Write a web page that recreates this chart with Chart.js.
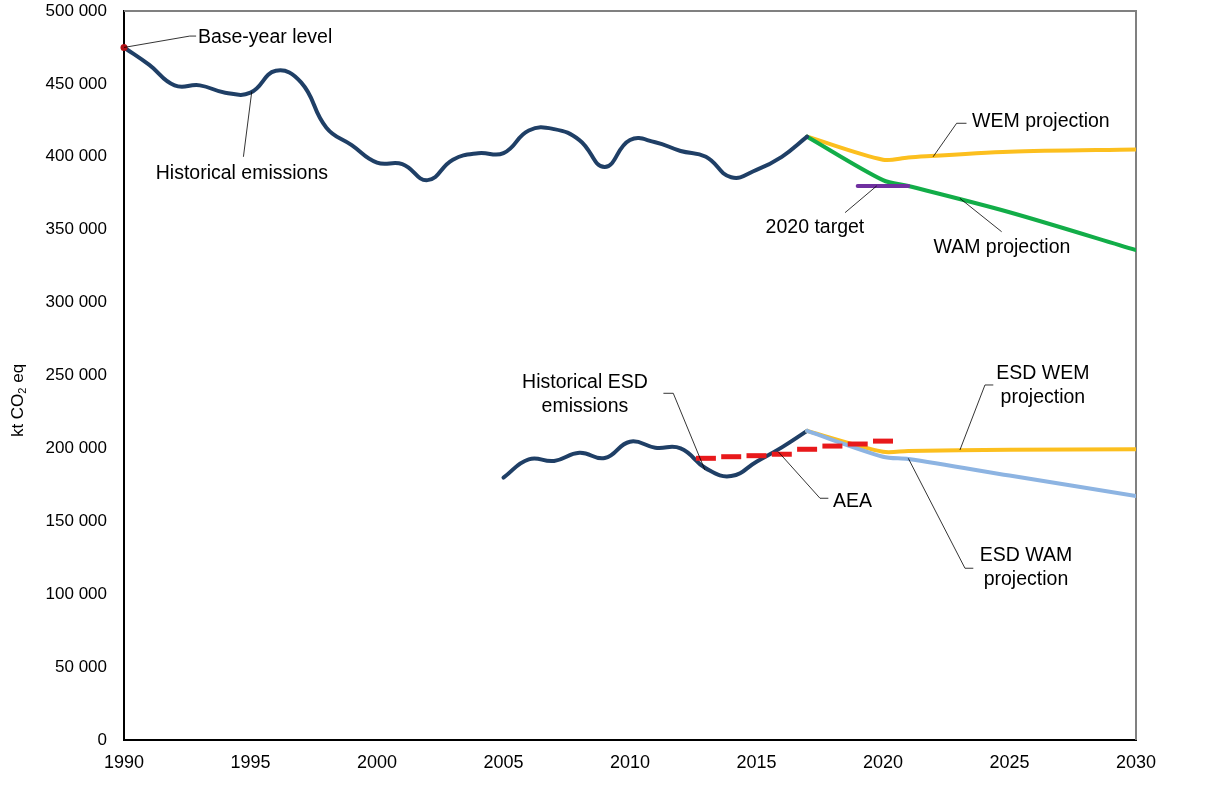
<!DOCTYPE html>
<html>
<head>
<meta charset="utf-8">
<script src="https://cdn.jsdelivr.net/npm/chart.js@4.4.1/dist/chart.umd.min.js"></script>
<style>
  html, body { margin: 0; padding: 0; background: #fff; overflow: hidden; }
  #wrap { width: 1219px; height: 797px; overflow: hidden; }
  #chart { display: block; margin-top: -4px; }
</style>
</head>
<body>
<div id="wrap"><canvas id="chart" width="1219" height="801"></canvas></div>
<script>
// kt CO2 eq values
const histYears = [1990,1991,1992,1993,1994,1995,1996,1997,1998,1999,2000,2001,2002,2003,2004,2005,2006,2007,2008,2009,2010,2011,2012,2013,2014,2015,2016,2017];
const histValues = [475000,463000,449000,449000,444000,444000,459000,451000,420000,408000,396000,395000,384000,398000,402500,402500,418000,419000,411500,393000,411500,410000,404000,400000,386000,391000,400000,413800];

const projYears = [2017, 2020, 2021, 2025, 2030];
const wemValues = [413800, 398000, 399500, 403500, 405000];
const wamValues = [413800, 384000, 380000, 362000, 336000];

const targetYears = [2019, 2021];
const targetValues = [380000, 380000];

const baseYear = [1990];
const baseValue = [475000];

const esdYears = [2005,2006,2007,2008,2009,2010,2011,2012,2013,2014,2015,2016,2017];
const esdValues = [180000,192500,191400,197000,193400,204600,200500,200000,186300,181000,190900,200700,212000];

const esdProjYears = [2017, 2020, 2021, 2025, 2030];
const esdWemValues = [212000, 197700, 198300, 199000, 199400];
const esdWamValues = [212000, 194300, 192700, 181400, 167300];

const aeaYears = [2013,2014,2015,2016,2017,2018,2019,2020];
const aeaValues = [193200,194300,195000,196000,199400,201600,203000,205000];

const xTicks = [1990,1995,2000,2005,2010,2015,2020,2025,2030];

// callout labels: text lines, text anchor (year, value), leader path (year, value)
const callouts = [
  { text: ['Base-year level'], align: 'left', at: [1992.92, 481500], path: [[1990, 475000], [1992.6, 482800], [1992.85, 482800]] },
  { text: ['Historical emissions'], align: 'center', at: [1994.66, 388200], path: [[1995.05, 444700], [1994.72, 400000]] },
  { text: ['2020 target'], align: 'center', at: [2017.31, 351200], path: [[2019.75, 380000], [2018.5, 361700]] },
  { text: ['WEM projection'], align: 'left', at: [2023.52, 423900], path: [[2021.98, 400000], [2022.91, 423000], [2023.3, 423000]] },
  { text: ['WAM projection'], align: 'center', at: [2024.7, 338000], path: [[2023.04, 371500], [2024.69, 348600]] },
  { text: ['Historical ESD', 'emissions'], align: 'center', at: [2008.22, 244900], path: [[2011.32, 237800], [2011.71, 237800], [2012.96, 185200]] },
  { text: ['AEA'], align: 'left', at: [2018.02, 163200], path: [[2015.86, 197700], [2017.51, 165800], [2017.84, 165800]] },
  { text: ['ESD WEM', 'projection'], align: 'center', at: [2026.32, 251000], path: [[2023.04, 198900], [2024.03, 243500], [2024.36, 243500]] },
  { text: ['ESD WAM', 'projection'], align: 'center', at: [2025.65, 126200], path: [[2021.0, 193200], [2023.24, 117800], [2023.57, 117800]] }
];

function pts(xs, ys) { return xs.map((x, i) => ({ x: x, y: ys[i] })); }

function fmt(v) { return v.toString().replace(/\B(?=(\d{3})+(?!\d))/g, ' '); }

const FONT = '"Liberation Sans", Arial, sans-serif';

const frameAndLabels = {
  id: 'frameAndLabels',
  beforeDatasetsDraw(chart) {
    const { ctx, chartArea: a } = chart;
    ctx.save();
    ctx.strokeStyle = '#808080';
    ctx.lineWidth = 2;
    ctx.beginPath();
    ctx.moveTo(a.left, a.top);
    ctx.lineTo(a.right, a.top);
    ctx.lineTo(a.right, a.bottom);
    ctx.stroke();
    ctx.restore();
  },
  afterDatasetsDraw(chart) {
    const { ctx, scales } = chart;
    const sx = scales.x, sy = scales.y;
    ctx.save();
    // leader lines
    ctx.strokeStyle = '#000';
    ctx.lineWidth = 0.8;
    callouts.forEach(c => {
      ctx.beginPath();
      c.path.forEach((p, i) => {
        const px = sx.getPixelForValue(p[0]), py = sy.getPixelForValue(p[1]);
        if (i === 0) ctx.moveTo(px, py); else ctx.lineTo(px, py);
      });
      ctx.stroke();
    });
    // text
    ctx.fillStyle = '#000';
    ctx.font = '19.5px ' + FONT;
    ctx.textBaseline = 'middle';
    callouts.forEach(c => {
      ctx.textAlign = c.align;
      const px = sx.getPixelForValue(c.at[0]);
      const py = sy.getPixelForValue(c.at[1]);
      c.text.forEach((t, i) => ctx.fillText(t, px, py + i * 24));
    });
    // y axis title with subscript
    const cy = (chart.chartArea.top + chart.chartArea.bottom) / 2 + 25;
    ctx.translate(18, cy);
    ctx.rotate(-Math.PI / 2);
    ctx.textAlign = 'left';
    ctx.textBaseline = 'middle';
    const p1 = 'kt CO', p3 = ' eq';
    ctx.font = '17px ' + FONT;
    const w1 = ctx.measureText(p1).width;
    ctx.font = '11px ' + FONT;
    const w2 = ctx.measureText('2').width;
    ctx.font = '17px ' + FONT;
    const w3 = ctx.measureText(p3).width;
    let x0 = -(w1 + w2 + w3) / 2;
    ctx.fillText(p1, x0, 0);
    ctx.font = '11px ' + FONT;
    ctx.fillText('2', x0 + w1, 5);
    ctx.font = '17px ' + FONT;
    ctx.fillText(p3, x0 + w1 + w2, 0);
    ctx.restore();
  }
};

const lineBase = { showLine: true, pointRadius: 0, borderWidth: 4, fill: false, borderCapStyle: 'round', borderJoinStyle: 'round' };

// first dataset is drawn on top
new Chart(document.getElementById('chart'), {
  type: 'scatter',
  data: {
    datasets: [
      { label: 'Base-year level', data: pts(baseYear, baseValue), showLine: false, clip: false, pointStyle: 'circle', pointRadius: 3.5, borderColor: '#b01116', backgroundColor: '#b01116', borderWidth: 0 },
      { label: 'AEA', data: pts(aeaYears, aeaValues), showLine: false, pointStyle: 'line', pointRadius: 10, pointBorderWidth: 5, borderColor: '#e8191b', backgroundColor: '#e8191b' },
      Object.assign({}, lineBase, { label: '2020 target', data: pts(targetYears, targetValues), borderColor: '#7030a0', tension: 0 }),
      Object.assign({}, lineBase, { label: 'ESD WAM projection', data: pts(esdProjYears, esdWamValues), borderColor: '#8db4e2', tension: 0.3 }),
      Object.assign({}, lineBase, { label: 'ESD WEM projection', data: pts(esdProjYears, esdWemValues), borderColor: '#fcbf1e', tension: 0.3 }),
      Object.assign({}, lineBase, { label: 'Historical emissions', data: pts(histYears, histValues), borderColor: '#1f3f66', tension: 0.45 }),
      Object.assign({}, lineBase, { label: 'Historical ESD emissions', data: pts(esdYears, esdValues), borderColor: '#1f3f66', tension: 0.45 }),
      Object.assign({}, lineBase, { label: 'WAM projection', data: pts(projYears, wamValues), borderColor: '#12ad48', tension: 0.3 }),
      Object.assign({}, lineBase, { label: 'WEM projection', data: pts(projYears, wemValues), borderColor: '#fcbf1e', tension: 0.3 })
    ]
  },
  options: {
    responsive: false,
    animation: false,
    events: [],
    layout: { padding: { top: 7, right: 83, left: 0, bottom: 0 } },
    plugins: { legend: { display: false }, tooltip: { enabled: false } },
    scales: {
      x: {
        type: 'linear',
        min: 1990, max: 2030,
        afterBuildTicks: s => { s.ticks = xTicks.map(v => ({ value: v })); },
        afterFit: s => { s.height = 57; s.paddingLeft = 0; s.paddingRight = 0; },
        grid: { display: false, drawOnChartArea: false, drawTicks: true, tickLength: 7, tickColor: '#000' },
        border: { color: '#000', width: 2 },
        ticks: { color: '#000', font: { family: FONT, size: 18 }, padding: 5, callback: v => String(v), maxRotation: 0 }
      },
      y: {
        min: 0, max: 500000,
        afterFit: s => { s.width = 124; s.paddingTop = 0; s.paddingBottom = 0; },
        grid: { display: false, drawTicks: false },
        border: { color: '#000', width: 2 },
        ticks: { stepSize: 50000, color: '#000', font: { family: FONT, size: 17 }, padding: 17, callback: v => fmt(v) }
      }
    }
  },
  plugins: [frameAndLabels]
});
</script>
</body>
</html>
